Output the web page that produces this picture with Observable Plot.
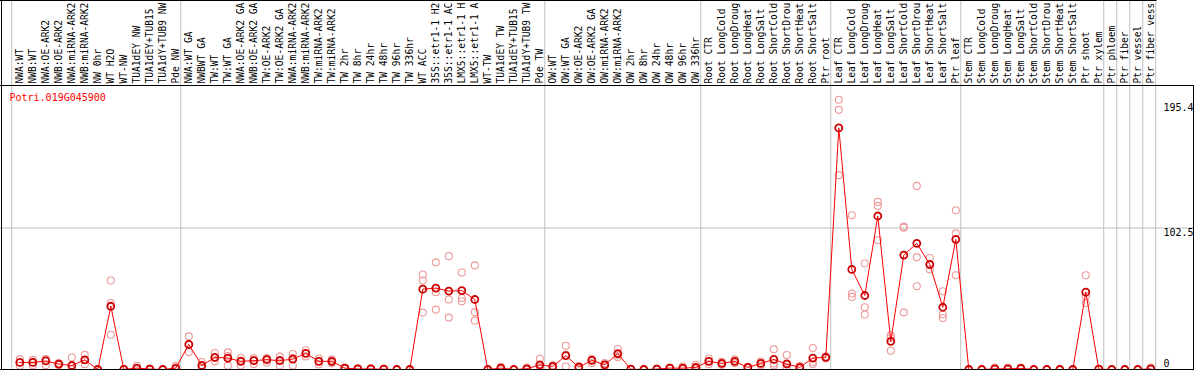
<!DOCTYPE html>
<html><head><meta charset="utf-8">
<script src="https://cdn.jsdelivr.net/npm/d3@7"></script>
<script src="https://cdn.jsdelivr.net/npm/@observablehq/plot@0.6"></script>
<style>body{margin:0;background:#fff} #chart svg{display:block;overflow:hidden}</style>
</head><body><div id="chart"></div>
<script>
const title = "Potri.019G045900";
// labels as far as the reference header shows them
const labels = [
  "NWA:WT","NWB:WT","NWA:OE-ARK2","NWB:OE-ARK2","NWA:miRNA-ARK2","NWB:miRNA-ARK2","NW 0hr","WT H2O","WT-NW","TUA1dEY NW","TUA1dEY+TUB15","TUA1dY+TUB9 NW","Pde NW",
  "NWA:WT GA","NWBWT GA","TW:WT","TW:WT GA","NWA:OE-ARK2 GA","NWB:OE-ARK2 GA","TW:OE-ARK2","TW:OE-ARK2 GA","NWA:miRNA-ARK2","NWB:miRNA-ARK2","TW:miRNA-ARK2","TW:miRNA-ARK2",
  "TW 2hr","TW 8hr","TW 24hr","TW 48hr","TW 96hr","TW 336hr","WT ACC","35S::etr1-1 H2","35S::etr1-1 AC","LMX5::etr1-1 H","LMX5::etr1-1 A","WT-TW","TUA1dEY TW","TUA1dEY+TUB15","TUA1dY+TUB9 TW","Pde TW",
  "OW:WT","OW:WT GA","OW:OE-ARK2","OW:OE-ARK2 GA","OW:miRNA-ARK2","OW:miRNA-ARK2","OW 2hr","OW 8hr","OW 24hr","OW 48hr","OW 96hr","OW 336hr",
  "Root CTR","Root LongCold","Root LongDroug","Root LongHeat","Root LongSalt","Root ShortCold","Root ShortDrou","Root ShortHeat","Root ShortSalt","Ptr root",
  "Leaf CTR","Leaf LongCold","Leaf LongDroug","Leaf LongHeat","Leaf LongSalt","Leaf ShortCold","Leaf ShortDrou","Leaf ShortHeat","Leaf ShortSalt","Ptr leaf",
  "Stem CTR","Stem LongCold","Stem LongDroug","Stem LongHeat","Stem LongSalt","Stem ShortCold","Stem ShortDrou","Stem ShortHeat","Stem ShortSalt","Ptr shoot","Ptr xylem",
  "Ptr phloem","Ptr fiber","Ptr vessel","Ptr fiber vess"
];
const means = [
  5.1,5.1,6.2,3.9,2.9,7.0,0,45.8,0.1,1.0,0.3,0,1.0,
  18.2,2.9,8.8,8.3,5.9,6.4,7.1,6.4,7.5,11.7,5.9,5.9,
  1.0,0.4,0.4,0.2,0,0,58.2,59.0,56.8,57.2,50.7,0,1.0,0,0.5,3.4,
  2.2,10.0,1.7,6.6,3.4,11.5,0.2,0,0.3,1.0,1.0,1.5,
  5.9,4.4,5.9,1.5,4.4,7.3,4.0,1.5,8.3,8.8,
  175.0,72.5,53.6,111.2,20.4,82.9,91.4,76.1,45.1,94.3,
  0,0,0.5,0.5,0.8,0,0,0,0,56.0,0.2,
  0,0,0,0.5
];
const rep1 = [
  7.5,7.0,7.6,4.6,8.7,10.6,0,64.5,0.3,2.7,0.6,0,2.7,
  24.0,5.4,11.9,12.4,8.3,8.3,8.3,9.5,11.2,13.9,8.0,7.3,
  1.5,0.8,0.8,0.5,0,0,68.8,77.6,82.1,70.3,75.4,0,2.0,0,1.5,7.8,
  3.0,17.2,2.5,7.8,4.6,14.9,0.4,0,0.6,1.5,2.2,3.4,
  8.0,5.5,7.3,2.0,5.8,14.6,10.5,2.5,15.6,9.5,
  195.4,111.7,76.8,121.4,24.7,103.5,133.0,80.8,56.7,115.4,
  0,0,1.5,1.5,1.5,0,0,0,0,68.3,0.4,
  0,0,0,1.5
];
const rep2 = [
  5.0,5.3,7.3,3.9,0.2,6.8,0,48.2,0,0.3,0.2,0,0.3,
  18.0,2.5,8.6,9.8,6.5,7.0,8.0,6.8,8.4,11.7,6.0,5.8,
  1.0,0.3,0.3,0.1,0,0,64.5,56.0,50.7,51.8,41.4,0,0.8,0,0,2.0,
  2.2,10.6,1.8,7.4,3.4,10.6,0.2,0,0.3,1.0,0.6,0.8,
  5.9,4.4,5.8,1.5,4.4,4.4,1.2,1.5,5.4,8.8,
  188.1,55.0,45.1,118.5,22.8,102.7,81.4,75.5,39.8,98.6,
  0,0,0,0,0.5,0,0,0,0,53.1,0.2,
  0,0,0,0
];
const rep3 = [
  2.7,3.0,3.0,3.2,0,3.8,0,25.2,0,0,0,0,0,
  12.6,0.8,5.9,2.7,2.9,3.9,5.0,2.9,2.9,9.5,3.7,4.6,
  0.5,0,0,0,0,0,41.2,43.4,37.6,49.4,35.4,0,0.2,0,0,0.4,
  1.4,2.2,0.8,4.6,2.2,9.0,0,0,0,0.5,0.2,0.3,
  3.8,3.3,4.6,1.0,3.0,2.9,0.3,0.5,3.9,8.1,
  140.8,52.6,39.8,93.6,13.6,41.4,60.3,72.5,37.3,68.3,
  0,0,0,0,0.3,0,0,0,0,48.2,0,
  0,0,0,0
];
// index of the last sample in each group (-1 = before the first one)
const groupEnds = [-1,12,40,52,62,72,83,84,85,86,87];
const yMaxLabel = [195.4];
const yMidLabel = [102.5];
const yZeroLabel = [0];

const rows = labels.map((label, i) => ({i, label, mean: means[i]}));
const reps = [rep1, rep2, rep3].flatMap(r => r.map((v, i) => ({i, v})));

const W = 1194, H = 370;
const chart = Plot.plot({
  width: W, height: H, margin: 0,
  style: {fontFamily: "'DejaVu Sans Mono', monospace", fontSize: "10px", background: "#fff", overflow: "hidden"},
  x: {domain: [0, 87], range: [19.3, 1150.3], axis: null},
  y: {domain: [0, 205], range: [369, 86], axis: null},
  marks: [
    Plot.ruleX(groupEnds, {x: d => d + 0.38, stroke: "#c0c0c0", strokeWidth: 1}),
    Plot.ruleY(yMidLabel, {stroke: "#c0c0c0", strokeWidth: 1}),
    Plot.text(rows, {x: "i", text: "label", frameAnchor: "top", dy: 83, rotate: -90, textAnchor: "start", lineAnchor: "middle", fontSize: 9.6, fill: "black"}),
    Plot.text([title], {frameAnchor: "top-left", dx: 9, dy: 93, lineAnchor: "top", textAnchor: "start", fill: "red"}),
    Plot.dot(reps, {x: "i", y: "v", r: 3.5, stroke: "#ee9a9a", strokeWidth: 1.1, fill: "none"}),
    Plot.line(rows, {x: "i", y: "mean", stroke: "red", strokeWidth: 1}),
    Plot.dot(rows, {x: "i", y: "mean", r: 3.5, stroke: "#cc0000", strokeWidth: 1.8, fill: "none"}),
    Plot.text(yMaxLabel, {y: d => d, text: d => String(d), frameAnchor: "right", dx: -31, dy: 4, textAnchor: "start", lineAnchor: "top", fill: "black"}),
    Plot.text(yMidLabel, {y: d => d, text: d => String(d), frameAnchor: "right", dx: -31, dy: 1, textAnchor: "start", lineAnchor: "top", fill: "black"}),
    Plot.text(yZeroLabel, {y: d => d, text: d => String(d), frameAnchor: "right", dx: -31, dy: -3, textAnchor: "start", lineAnchor: "bottom", fill: "black"})
  ]
});
document.getElementById("chart").appendChild(chart);

// black frame lines of the header box and the plot box
const svg = d3.select(chart);
const frame = [
  [0, 0.5, 1156.5, 0.5],
  [0, 85.5, W, 85.5],
  [1.5, 0, 1.5, H],
  [W - 0.5, 85, W - 0.5, H],
  [0, 369.5, W, 369.5]
];
svg.append("g").attr("stroke", "black").attr("stroke-width", 1)
  .selectAll("line").data(frame).join("line")
  .attr("x1", d => d[0]).attr("y1", d => d[1]).attr("x2", d => d[2]).attr("y2", d => d[3]);
</script>
</body></html>
